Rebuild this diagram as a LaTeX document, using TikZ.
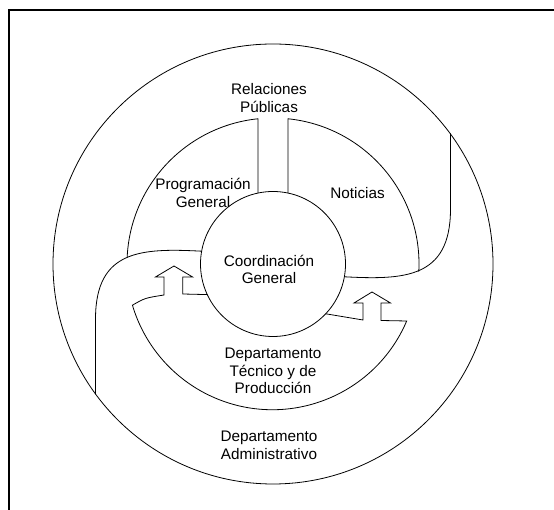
\documentclass[tikz,border=0pt]{standalone}
\usepackage{fontspec}
\setmainfont{Liberation Sans}
\begin{document}
\begin{tikzpicture}[x=1pt,y=1pt, line width=0.8pt,
  lbl/.style={font=\fontsize{15.3}{17.5}\selectfont, align=center, inner sep=0pt},
  frameline/.style={line width=1.6pt}]
\clip (0,0) rectangle (554,510);
\draw[frameline] (8.8,-5) -- (8.8,500) -- (560,500);
\begin{scope}[shift={(273,246)}]
\coordinate (c) at (0,0);
% outer circle
\draw (c) circle[radius=220];
% central circle
\node[circle, draw, minimum size=145pt, inner sep=0pt] (coord) at (c) {};
\node[lbl] (coordtxt) at (-4,-5.5) {Coordinación\\General};
% Programación General region
\draw (-15,70.93) -- (-15,145.23) arc[start angle=95.9, end angle=177.5, radius=146];
% Noticias region
\draw (15,70.93) -- (15,145.23) arc[start angle=84.1, end angle=-3, radius=146];
% S-curves
\draw (71.4,-12.8) .. controls (132,-16) and (177,-14) .. (177.5,54) -- (177.5,130.5);
\draw (-71.4,12.8) .. controls (-132,16) and (-177,14) .. (-177.5,-54) -- (-177.5,-130.5);
% Departamento Tecnico region with arrows
\draw (52.7,-49.8) -- (90,-56) -- (90,-39) -- (81,-39) -- (99,-28) -- (117.5,-39) -- (108,-39)
  -- (108,-56.5) -- (133.7,-57) arc[start angle=-23.1, end angle=-163.5, radius=146]
  .. controls (-128,-34) .. (-109,-31) -- (-109,-13) -- (-117.5,-13) -- (-99,-2)
  -- (-80.4,-13) -- (-90.3,-13) -- (-90.3,-30) -- (-65.7,-30.6);
% labels
\node[lbl] (rp) at (-4,166) {Relaciones\\Públicas};
\node[lbl] (prog) at (-70,71) {Programación\\General};
\node[lbl] (noti) at (84.6,71) {Noticias};
\node[lbl] (dtp) at (0,-107) {Departamento\\Técnico y de\\Producción};
\node[lbl] (adm) at (-4,-181.5) {Departamento\\Administrativo};
\end{scope}
\end{tikzpicture}
\end{document}
